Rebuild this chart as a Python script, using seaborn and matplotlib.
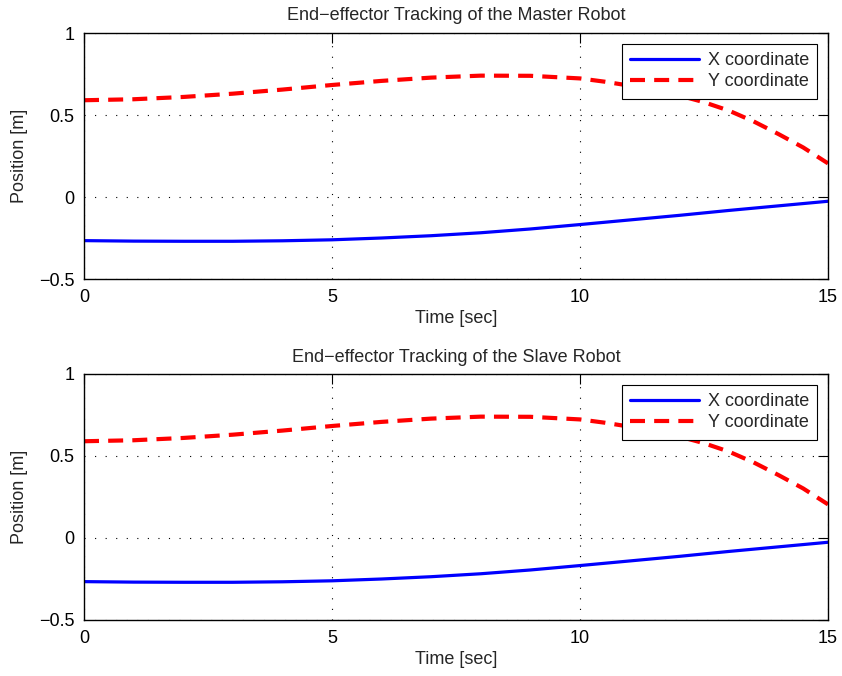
import numpy as np
import pandas as pd
import matplotlib
matplotlib.use("Agg")
import matplotlib.pyplot as plt
import seaborn as sns

# Data
time_s = [0, 1, 2, 3, 4, 5, 6, 7, 8, 9, 10, 10.5, 11, 11.5, 12, 12.5, 13, 13.5, 14, 14.5, 15]
master_x = [-0.266, -0.269, -0.270, -0.270, -0.267, -0.261, -0.250, -0.236, -0.218, -0.195, -0.168,
            -0.154, -0.140, -0.126, -0.112, -0.097, -0.082, -0.068, -0.054, -0.040, -0.026]
master_y = [0.590, 0.596, 0.610, 0.630, 0.655, 0.683, 0.708, 0.728, 0.740, 0.739, 0.723,
            0.703, 0.679, 0.651, 0.619, 0.578, 0.527, 0.461, 0.384, 0.302, 0.205]
slave_x = [-0.266, -0.269, -0.270, -0.270, -0.267, -0.261, -0.250, -0.236, -0.218, -0.195, -0.168,
           -0.154, -0.140, -0.126, -0.112, -0.097, -0.082, -0.068, -0.054, -0.040, -0.026]
slave_y = [0.590, 0.596, 0.610, 0.630, 0.655, 0.683, 0.708, 0.728, 0.740, 0.739, 0.723,
           0.703, 0.679, 0.651, 0.619, 0.578, 0.527, 0.461, 0.384, 0.302, 0.205]
titles = ["End\u2212effector Tracking of the Master Robot",
          "End\u2212effector Tracking of the Slave Robot"]
series_labels = ["X coordinate", "Y coordinate"]
xticks = [0, 5, 10, 15]
yticks = [-0.5, 0, 0.5, 1]

sns.set_style("white")
plt.rcParams['font.family'] = ['Liberation Sans', 'DejaVu Sans']
plt.rcParams['axes.unicode_minus'] = True

FS = 13
fig = plt.figure(figsize=(8.42, 6.76), dpi=100)
ax1 = fig.add_axes([84/842, 1-279/676, 744/842, 246/676])
ax2 = fig.add_axes([84/842, 1-620/676, 744/842, 246/676])

for ax, xs, ys, title in [(ax1, master_x, master_y, titles[0]), (ax2, slave_x, slave_y, titles[1])]:
    df = pd.DataFrame({"t": time_s, "x": xs, "y": ys})
    sns.lineplot(data=df, x="t", y="x", ax=ax, color="#0000ff", lw=2.3, label=series_labels[0])
    sns.lineplot(data=df, x="t", y="y", ax=ax, color="#ff0000", lw=3.0,
                 linestyle=(0, (3.6, 2.2)), label=series_labels[1])
    ax.set_xlim(0, 15)
    ax.set_ylim(-0.5, 1)
    ax.set_xticks(xticks)
    ax.set_yticks(yticks)
    ax.set_xticklabels([str(v) for v in xticks])
    ax.set_yticklabels(["\u22120.5", "0", "0.5", "1"])
    ax.grid(True, color="black", linestyle=(0, (1, 8.5)), linewidth=0.8)
    ax.tick_params(direction="in", length=7, width=0.8, labelsize=FS, top=True, right=True,
                   colors="black", pad=7)
    for s in ax.spines.values():
        s.set_visible(True)
        s.set_color("black")
        s.set_linewidth(1.0)
    ax.set_title(title, fontsize=FS, pad=9)
    ax.set_xlabel("Time [sec]", fontsize=FS, labelpad=3)
    ax.set_ylabel("Position [m]", fontsize=FS, labelpad=8)
    leg = ax.legend(loc="upper right", fontsize=FS, handlelength=3.8, frameon=True,
                    fancybox=False, edgecolor="black", borderaxespad=0.6, framealpha=1.0,
                    borderpad=0.45, labelspacing=0.25, handletextpad=0.5)
    leg.get_frame().set_linewidth(0.8)

fig.savefig("out.png", dpi=100)
